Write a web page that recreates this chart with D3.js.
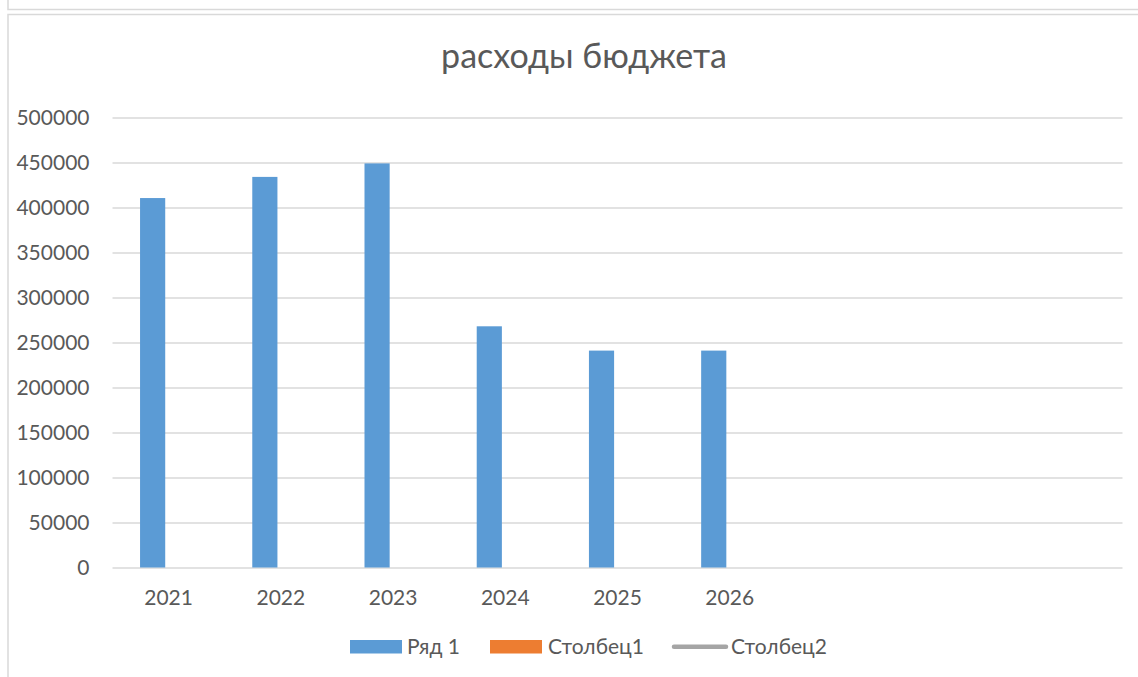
<!DOCTYPE html>
<html>
<head>
<meta charset="utf-8">
<script src="https://cdn.jsdelivr.net/npm/d3@7"></script>
<style>
  html, body { margin: 0; padding: 0; background: #fff; }
  svg { display: block; }
  text { font-family: Lato, "Open Sans", sans-serif; fill: #595959; }
</style>
</head>
<body>
<svg id="chart" width="1138" height="677"></svg>
<script>
// ---- data ----
const title = "расходы бюджета";
const categories = ["2021", "2022", "2023", "2024", "2025", "2026", "", "", ""];
const seriesNames = ["Ряд 1", "Столбец1", "Столбец2"];
const ryad1 = [410500, 434000, 449000, 268000, 241000, 241000, null, null, null];
const stolbets1 = [null, null, null, null, null, null, null, null, null];
const stolbets2 = [null, null, null, null, null, null, null, null, null];
const yTicks = [0, 50000, 100000, 150000, 200000, 250000, 300000, 350000, 400000, 450000, 500000];
const colors = ["#5b9bd5", "#ed7d31", "#a5a5a5"];

const W = 1138, H = 677;
const svg = d3.select("#chart");

// frames
svg.append("path").attr("d", "M8,0 V9.5 H1138").attr("fill", "none").attr("stroke", "#d9d9d9").attr("stroke-width", 1.5);
svg.append("path").attr("d", "M8,677 V14.5 H1138").attr("fill", "none").attr("stroke", "#d9d9d9").attr("stroke-width", 1.5);

const plot = { left: 112.5, right: 1122.5, top: 117.5, bottom: 567.5 };

const x0 = d3.scaleBand()
  .domain(d3.range(categories.length))
  .range([plot.left, plot.right])
  .paddingInner(0.491)
  .paddingOuter(0.2455);

const barSeries = [seriesNames[0], seriesNames[1]];
const x1 = d3.scaleBand()
  .domain(barSeries)
  .range([0, x0.bandwidth()])
  .paddingInner(0.27 / 1.27);

const y = d3.scaleLinear().domain([0, 500000]).range([plot.bottom, plot.top]);

// title
svg.append("text")
  .attr("x", 584).attr("y", 67.5)
  .attr("text-anchor", "middle")
  .style("font-size", "34px")
  .text(title);

// y axis with gridlines
const yAxis = svg.append("g")
  .attr("transform", `translate(${plot.left},0)`)
  .call(d3.axisLeft(y).tickValues(yTicks).tickFormat(d3.format("d"))
    .tickSize(-(plot.right - plot.left)).tickPadding(23));
yAxis.select(".domain").remove();
yAxis.selectAll(".tick line").attr("stroke", "#d9d9d9").attr("stroke-width", 1.5);
yAxis.selectAll(".tick text").style("font-size", "21px").attr("fill", "#595959").attr("font-family", "Lato");

// x axis labels
const xAxis = svg.append("g")
  .attr("transform", `translate(0,${plot.bottom})`)
  .call(d3.axisBottom(d3.scaleBand().domain(d3.range(categories.length)).range([plot.left, plot.right]))
    .tickSize(0).tickPadding(23).tickFormat(i => categories[i]));
xAxis.select(".domain").remove();
xAxis.selectAll(".tick text").style("font-size", "21px").attr("fill", "#595959").attr("font-family", "Lato");

// bars
const barData = [];
[ryad1, stolbets1].forEach((vals, si) => {
  vals.forEach((v, i) => {
    if (v != null) barData.push({ s: barSeries[si], i, v, c: colors[si] });
  });
});
svg.append("g").selectAll("rect").data(barData).join("rect")
  .attr("x", d => x0(d.i) + x1(d.s))
  .attr("width", x1.bandwidth())
  .attr("y", d => y(d.v))
  .attr("height", d => y(0) - y(d.v))
  .attr("fill", d => d.c);

// line series (empty)
const line = d3.line()
  .defined(d => d != null)
  .x((d, i) => x0(i) + x0.bandwidth() / 2)
  .y(d => y(d));
svg.append("path").datum(stolbets2).attr("d", line)
  .attr("fill", "none").attr("stroke", colors[2]).attr("stroke-width", 4);

// legend
const lg = svg.append("g");
const legendItems = [
  { name: seriesNames[0], type: "bar", c: colors[0], x: 350, tx: 407 },
  { name: seriesNames[1], type: "bar", c: colors[1], x: 490, tx: 548 },
  { name: seriesNames[2], type: "line", c: colors[2], x: 672, tx: 731 }
];
legendItems.forEach(it => {
  if (it.type === "bar") {
    lg.append("rect").attr("x", it.x).attr("y", 640).attr("width", 52).attr("height", 13.5).attr("fill", it.c);
  } else {
    lg.append("line").attr("x1", it.x + 2).attr("x2", it.x + 54).attr("y1", 646.7).attr("y2", 646.7)
      .attr("stroke", it.c).attr("stroke-width", 4.5).attr("stroke-linecap", "round");
  }
  lg.append("text").attr("x", it.tx).attr("y", 654).style("font-size", "21px").text(it.name);
});
</script>
</body>
</html>
